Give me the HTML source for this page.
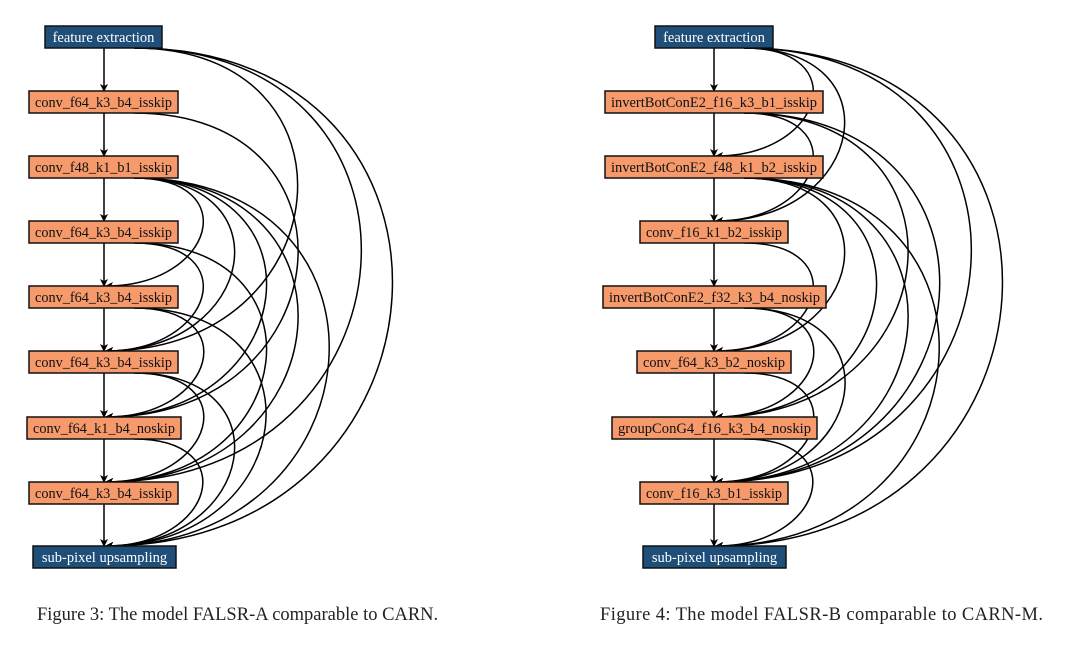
<!DOCTYPE html>
<html><head><meta charset="utf-8"><style>
body{margin:0;background:#fff;width:1080px;height:651px;overflow:hidden;font-family:"Liberation Serif",serif}
svg{position:absolute;left:0;top:0}
.cap{position:absolute;top:605px;font-size:18.5px;color:#222;white-space:nowrap}
</style></head><body>
<svg id="s" width="1080" height="651" xmlns="http://www.w3.org/2000/svg">
<defs><marker id="a" markerWidth="8" markerHeight="8" refX="7" refY="4" orient="auto" markerUnits="userSpaceOnUse"><path d="M0,0 L8,4 L0,8 L2,4 z" fill="#000"/></marker></defs>
<g id="e" fill="none" stroke="#000" stroke-width="1.5"></g>
<g id="n" font-family="Liberation Serif, serif" font-size="14.5"></g>
</svg>
<div class="cap" style="left:37px">Figure 3: The model FALSR-A comparable to CARN.</div>
<div class="cap" style="left:600px;letter-spacing:0.4px">Figure 4: The model FALSR-B comparable to CARN-M.</div>
<script>
const ys=[37,102,167,232,297,362,428,493,557];
const L={cx:104,nodes:[["feature extraction",45,162,1],["conv_f64_k3_b4_isskip",29,178],["conv_f48_k1_b1_isskip",29,178],["conv_f64_k3_b4_isskip",29,178],["conv_f64_k3_b4_isskip",29,178],["conv_f64_k3_b4_isskip",29,178],["conv_f64_k1_b4_noskip",27,181],["conv_f64_k3_b4_isskip",29,178],["sub-pixel upsampling",33,176,1]],
edges:[[0,5],[0,7],[0,8],[1,6],[2,4],[2,5],[2,6],[2,7],[2,8],[3,5],[3,7],[4,6],[4,8],[5,7],[5,8],[6,8],[7,8]]};
const R={cx:714,nodes:[["feature extraction",655,773,1],["invertBotConE2_f16_k3_b1_isskip",605,823],["invertBotConE2_f48_k1_b2_isskip",605,823],["conv_f16_k1_b2_isskip",640,788],["invertBotConE2_f32_k3_b4_noskip",603,826],["conv_f64_k3_b2_noskip",637,791],["groupConG4_f16_k3_b4_noskip",612,817],["conv_f16_k3_b1_isskip",640,788],["sub-pixel upsampling",643,786,1]],
edges:[[0,2],[0,3],[0,7],[0,8],[1,3],[1,6],[1,7],[2,5],[2,6],[2,7],[2,8],[3,5],[4,6],[4,7],[5,7],[6,8]]};
const E=document.getElementById('e'),N=document.getElementById('n'),ns="http://www.w3.org/2000/svg";
function mk(t,a,p){const el=document.createElementNS(ns,t);for(const k in a)el.setAttribute(k,a[k]);p.appendChild(el);return el;}
for(const F of [L,R]){
 const cx=F.cx;
 for(let i=0;i<8;i++) mk('path',{d:`M${cx},${ys[i]+11} L${cx},${ys[i+1]-11}`,'marker-end':'url(#a)'},E);
 for(const [a,b] of F.edges){
  if(b===a+1)continue;
  const y1=ys[a]+11,y2=ys[b]-11,span=y2-y1,w=40+span*0.65,sx=cx+30;
  mk('path',{d:`M${sx},${y1} C${sx+w},${y1} ${cx+w},${y2} ${cx+2},${y2}`,'marker-end':'url(#a)'},E);
 }
 F.nodes.forEach((nd,i)=>{
  const [t,x1,x2,blue]=nd;
  mk('rect',{x:x1,y:ys[i]-11,width:x2-x1,height:22,fill:blue?'#1f4e79':'#f79a6b',stroke:'#111','stroke-width':1.5},N);
  const at={x:(x1+x2)/2,y:ys[i]+5,'text-anchor':'middle',fill:blue?'#fff':'#111'};
  if(!blue){at.textLength=(x2-x1-12);at.lengthAdjust='spacingAndGlyphs';}
  const tx=mk('text',at,N);tx.textContent=t;
 });
}
</script>
</body></html>
